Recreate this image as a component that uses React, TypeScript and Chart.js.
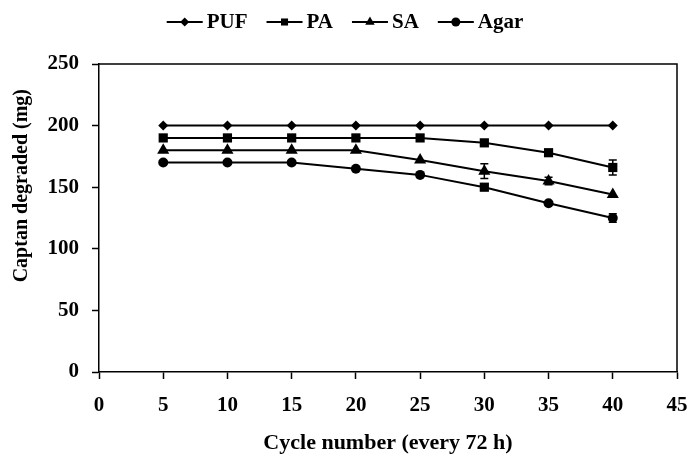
import React, { useEffect, useRef } from 'react';
import { Chart, registerables } from 'chart.js';

Chart.register(...registerables);

const cycles = [5, 10, 15, 20, 25, 30, 35, 40];
const pufValues = [200, 200, 200, 200, 200, 200, 200, 200];
const paValues = [190, 190, 190, 190, 190, 186, 178, 166];
const saValues = [180, 180, 180, 180, 172, 163, 155, 144];
const agarValues = [170, 170, 170, 165, 160, 150, 137, 125];
const pufErrors = [0, 0, 0, 0, 0, 0, 0, 0];
const paErrors = [0, 0, 0, 0, 0, 0, 1.5, 6];
const saErrors = [0, 0, 0, 0, 0, 6, 3, 0];
const agarErrors = [0, 0, 0, 0, 0, 0, 0, 3.5];
const seriesNames = ['PUF', 'PA', 'SA', 'Agar'];
const xTitle = 'Cycle number (every 72 h)';
const yTitle = 'Captan degraded (mg)';
const xMin = 0, xMax = 45, xStep = 5;
const yMin = 0, yMax = 250, yStep = 50;

const FONT = '"Liberation Serif", "Times New Roman", serif';

function drawMarker(ctx: CanvasRenderingContext2D, style: string, x: number, y: number, r: number) {
  ctx.beginPath();
  if (style === 'rectRot') {
    ctx.moveTo(x, y - r);
    ctx.lineTo(x + r, y);
    ctx.lineTo(x, y + r);
    ctx.lineTo(x - r, y);
    ctx.closePath();
  } else if (style === 'rect') {
    const s = r * Math.SQRT1_2;
    ctx.rect(x - s, y - s, 2 * s, 2 * s);
  } else if (style === 'triangle') {
    for (let i = 0; i < 3; i++) {
      const a = (i * 2 * Math.PI) / 3;
      const px = x + Math.sin(a) * r;
      const py = y - Math.cos(a) * r;
      if (i === 0) ctx.moveTo(px, py); else ctx.lineTo(px, py);
    }
    ctx.closePath();
  } else {
    ctx.arc(x, y, r, 0, Math.PI * 2);
  }
  ctx.fill();
}

const legendPlugin = {
  id: 'customLegend',
  afterDraw(chart: any) {
    const ctx: CanvasRenderingContext2D = chart.ctx;
    ctx.save();
    ctx.font = `bold 21px ${FONT}`;
    const lineLen = 36, textGap = 4, itemGap = 19;
    const items = chart.data.datasets.map((ds: any) => ({
      label: ds.label,
      style: ds.legendStyle,
      r: ds.legendRadius,
      w: lineLen + textGap + ctx.measureText(ds.label).width,
    }));
    const total = items.reduce((s: number, it: any) => s + it.w, 0) + itemGap * (items.length - 1);
    let x = chart.width / 2 - 1 - total / 2;
    const y = 22;
    ctx.fillStyle = '#000';
    ctx.strokeStyle = '#000';
    ctx.lineWidth = 2;
    ctx.textBaseline = 'middle';
    ctx.textAlign = 'left';
    for (const it of items) {
      ctx.beginPath();
      ctx.moveTo(x, y);
      ctx.lineTo(x + lineLen, y);
      ctx.stroke();
      drawMarker(ctx, it.style, x + lineLen / 2, y, it.r);
      ctx.fillText(it.label, x + lineLen + textGap, y + 1);
      x += it.w + itemGap;
    }
    ctx.restore();
  },
};

const yTitlePlugin = {
  id: 'yTitleText',
  afterDraw(chart: any) {
    const { ctx, chartArea } = chart;
    ctx.save();
    ctx.font = `bold 20px ${FONT}`;
    ctx.fillStyle = '#000';
    ctx.textAlign = 'center';
    ctx.textBaseline = 'middle';
    ctx.translate(22, chartArea.top + chartArea.height * 0.395);
    ctx.rotate(-Math.PI / 2);
    ctx.fillText(yTitle, 0, 0);
    ctx.restore();
  },
};

const errorBarPlugin = {
  id: 'errorBars',
  afterDatasetsDraw(chart: any) {
    const ctx: CanvasRenderingContext2D = chart.ctx;
    const xs = chart.scales.x;
    const ys = chart.scales.y;
    ctx.save();
    ctx.strokeStyle = '#000';
    ctx.lineWidth = 1.5;
    chart.data.datasets.forEach((ds: any) => {
      ds.data.forEach((p: any, i: number) => {
        const e = ds.errors[i];
        if (!e) return;
        const px = xs.getPixelForValue(p.x);
        const top = ys.getPixelForValue(p.y + e);
        const bot = ys.getPixelForValue(p.y - e);
        ctx.beginPath();
        ctx.moveTo(px, top);
        ctx.lineTo(px, bot);
        ctx.moveTo(px - 4, top);
        ctx.lineTo(px + 4, top);
        ctx.moveTo(px - 4, bot);
        ctx.lineTo(px + 4, bot);
        ctx.stroke();
      });
    });
    ctx.restore();
  },
};

const frameBorderPlugin = {
  id: 'frameBorder',
  afterDraw(chart: any) {
    const { ctx, chartArea } = chart;
    ctx.save();
    ctx.strokeStyle = '#000';
    ctx.lineWidth = 1.5;
    ctx.beginPath();
    ctx.moveTo(chartArea.left, chartArea.top);
    ctx.lineTo(chartArea.right, chartArea.top);
    ctx.lineTo(chartArea.right, chartArea.bottom);
    ctx.stroke();
    ctx.restore();
  },
};

function makeSeries(label: string, values: number[], errors: number[], style: any, radius: any, legendStyle: string, legendRadius: number) {
  return {
    label,
    data: cycles.map((c, i) => ({ x: c, y: values[i] })),
    errors,
    legendStyle,
    legendRadius,
    borderColor: '#000',
    backgroundColor: '#000',
    pointBackgroundColor: '#000',
    pointBorderColor: '#000',
    borderWidth: 2,
    pointBorderWidth: 0,
    pointStyle: style,
    pointRadius: radius,
    pointHoverRadius: radius,
    tension: 0,
    fill: false,
  };
}

export default function App() {
  const canvasRef = useRef<HTMLCanvasElement | null>(null);

  useEffect(() => {
    if (!canvasRef.current) return;
    const tickFont = { family: FONT, size: 21, weight: 'bold' as const };
    const xTitleFont = { family: FONT, size: 22, weight: 'bold' as const };
    const agarStyles = cycles.map((_, i) => (i === 5 ? 'rect' : 'circle'));
    const agarRadii = cycles.map((_, i) => (i === 5 ? 6.5 : 5));
    const chart = new Chart(canvasRef.current, {
      type: 'line',
      data: {
        datasets: [
          makeSeries(seriesNames[0], pufValues, pufErrors, 'rectRot', 5, 'rectRot', 4.5),
          makeSeries(seriesNames[1], paValues, paErrors, 'rect', 6.5, 'rect', 5),
          makeSeries(seriesNames[2], saValues, saErrors, 'triangle', 7, 'triangle', 5.5),
          makeSeries(seriesNames[3], agarValues, agarErrors, agarStyles, agarRadii, 'circle', 4.5),
        ] as any,
      },
      options: {
        animation: false,
        responsive: false,
        maintainAspectRatio: false,
        layout: { padding: { top: 64, right: 15, left: 0, bottom: 0 } },
        plugins: {
          legend: { display: false },
          tooltip: { enabled: false },
        },
        scales: {
          x: {
            type: 'linear',
            min: xMin,
            max: xMax,
            afterFit: (s: any) => { s.height = 85; s.paddingLeft = 0; s.paddingRight = 0; },
            ticks: { stepSize: xStep, color: '#000', font: tickFont, padding: 14, maxRotation: 0 },
            grid: { drawOnChartArea: false, drawTicks: true, tickLength: 7, tickColor: '#000', tickWidth: 1.5 },
            border: { display: true, color: '#000', width: 1.5 },
            title: { display: true, text: xTitle, color: '#000', font: xTitleFont, padding: { top: 0, bottom: 0 } },
          },
          y: {
            type: 'linear',
            min: yMin,
            max: yMax,
            afterFit: (s: any) => { s.width = 99; s.paddingTop = 0; s.paddingBottom = 0; },
            ticks: { stepSize: yStep, color: '#000', font: tickFont, padding: 13 },
            grid: { drawOnChartArea: false, drawTicks: true, tickLength: 7, tickColor: '#000', tickWidth: 1.5 },
            border: { display: true, color: '#000', width: 1.5 },
            title: { display: false, text: yTitle },
          },
        },
      } as any,
      plugins: [errorBarPlugin, frameBorderPlugin, legendPlugin, yTitlePlugin],
    });
    return () => chart.destroy();
  }, []);

  return (
    <div style={{ position: 'fixed', left: 0, top: 0, width: 692, height: 457, background: '#fff' }}>
      <canvas ref={canvasRef} width={692} height={457} style={{ width: 692, height: 457, display: 'block' }} />
    </div>
  );
}
